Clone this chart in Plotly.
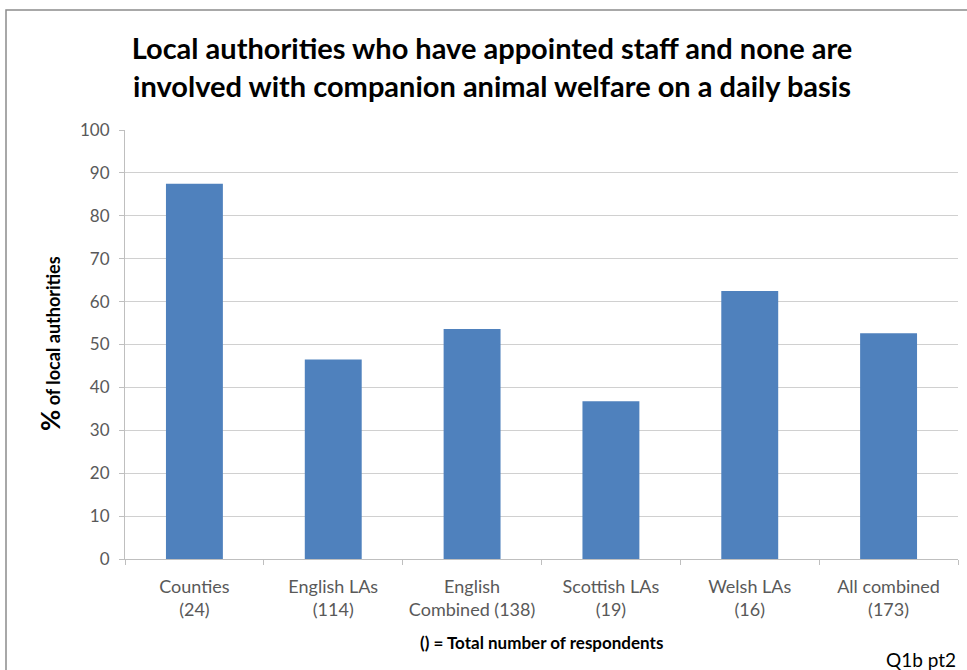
import plotly.graph_objects as go

categories = ["Counties<br>(24)", "English LAs<br>(114)", "English<br>Combined (138)",
              "Scottish LAs<br>(19)", "Welsh LAs<br>(16)", "All combined<br>(173)"]
values = [87.5, 46.5, 53.6, 36.8, 62.5, 52.6]
y_ticks = [0, 10, 20, 30, 40, 50, 60, 70, 80, 90, 100]

FONT = "Lato, 'Open Sans', sans-serif"
W, H = 967, 670
ML, MR, MT, MB = 125, 9, 130, 111
PW, PH = W - ML - MR, H - MT - MB

def px_x(px):
    return (px - ML) / PW

def px_y(py):
    return (H - MB - py) / PH

fig = go.Figure()
fig.add_trace(go.Bar(
    x=categories, y=values,
    marker=dict(color="#4f81bd", line=dict(width=0)),
))

fig.update_layout(
    width=W, height=H,
    margin=dict(l=ML, r=MR, t=MT, b=MB),
    paper_bgcolor="white", plot_bgcolor="white",
    bargap=0.59,
    showlegend=False,
    font=dict(family=FONT, color="#595959", size=17),
    title=dict(
        text="<b>Local authorities who have appointed staff and none are<br>involved with companion animal welfare on a daily basis</b>",
        x=492 / W, xanchor="center", y=1 - 59 / H, yanchor="middle",
        font=dict(family=FONT, size=29, color="#000000"),
    ),
    xaxis=dict(
        type="category",
        showline=True, linecolor="#bfbfbf", linewidth=1,
        ticks="outside", tickson="boundaries", ticklen=5, tickcolor="#bfbfbf",
        tickfont=dict(family=FONT, size=18, color="#595959"),
        ticklabelstandoff=11,
        showgrid=False,
    ),
    yaxis=dict(
        range=[0, 100], tickvals=y_ticks,
        showline=True, linecolor="#bfbfbf", linewidth=1,
        ticks="outside", ticklen=5, tickcolor="#bfbfbf",
        showgrid=True, gridcolor="#d0d0d0", gridwidth=1,
        zeroline=False,
        ticklabelstandoff=6,
        tickfont=dict(family=FONT, size=17, color="#595959"),
    ),
    annotations=[
        dict(text="<b><span style='font-size:26px'>%</span> of local authorities</b>",
             xref="paper", yref="paper", x=px_x(50), y=px_y(344), textangle=-90,
             showarrow=False, xanchor="center", yanchor="middle",
             font=dict(family=FONT, size=18, color="#000000")),
        dict(text="<b>() = Total number of respondents</b>",
             xref="paper", yref="paper", x=px_x(541), y=px_y(642),
             showarrow=False, xanchor="center", yanchor="middle",
             font=dict(family=FONT, size=17, color="#000000")),
        dict(text="Q1b pt2",
             xref="paper", yref="paper", x=px_x(958), y=px_y(659),
             showarrow=False, xanchor="right", yanchor="middle",
             font=dict(family=FONT, size=19, color="#000000")),
    ],
    shapes=[
        dict(type="rect", xref="paper", yref="paper",
             x0=px_x(6), x1=px_x(975), y0=px_y(680), y1=px_y(10),
             line=dict(color="#8c8c8c", width=1.5), fillcolor="rgba(0,0,0,0)",
             layer="below"),
    ],
)

fig.write_html("out.html")
